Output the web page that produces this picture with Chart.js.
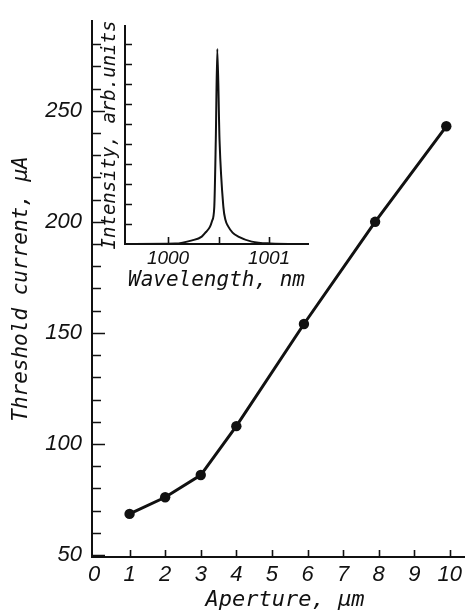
<!DOCTYPE html>
<html><head><meta charset="utf-8">
<script src="https://cdn.jsdelivr.net/npm/chart.js@4.4.1/dist/chart.umd.min.js"></script>
<style>
html,body{margin:0;padding:0;background:#fff;}
#wrap{position:relative;width:470px;height:616px;overflow:hidden;}
#main{position:absolute;left:0;top:0;}
#inset{position:absolute;left:96px;top:0;}
</style></head><body>
<div id="wrap"><canvas id="main" width="470" height="616"></canvas><canvas id="inset" width="220" height="295"></canvas></div>
<script>
// ---- main chart data ----
const apertures = [1, 2, 3, 4, 5.9, 7.9, 9.9];
const thresholdCurrents = [68.5, 76, 86, 108, 154, 200, 243];
const mainXTicks = [0, 1, 2, 3, 4, 5, 6, 7, 8, 9, 10];
const mainXTickMarks = [1, 2, 3, 4, 5, 6, 7, 8, 9, 10];
const mainYTicks = [50, 60, 70, 80, 90, 100, 110, 120, 130, 140, 150, 160, 170, 180, 190, 200, 210, 220, 230, 240, 250, 260, 270, 280];
const mainYLabelled = [50, 100, 150, 200, 250];

// ---- inset spectrum data ----
const wavelengths = [999.6, 1000.07, 1000.238, 1000.334, 1000.376, 1000.416, 1000.436, 1000.458, 1000.473, 1000.488, 1000.51, 1000.548, 1000.569, 1000.597, 1000.639, 1000.696, 1000.829, 1001.01, 1001.386];
const intensities = [0, 0.002, 0.018, 0.037, 0.06, 0.087, 0.115, 0.185, 0.52, 0.975, 0.52, 0.186, 0.12, 0.087, 0.057, 0.037, 0.012, 0.003, 0];
const insetXTicks = [1000, 1000.5, 1001];
const insetXLabelled = [1000, 1001];
const insetYTicks = [0.1, 0.2, 0.3, 0.4, 0.5, 0.6, 0.7, 0.8, 0.9, 1.0];

const INK = '#111';
const tickFont = {family: '"Liberation Sans", Arial, sans-serif', style: 'italic', size: 22, lineHeight: 1};
const titleFam = '"DejaVu Sans Mono", monospace';

function inwardTicks(id, spec) {
  return {
    id: id,
    afterDraw(chart) {
      const ctx = chart.ctx, a = chart.chartArea;
      const xs = chart.scales.x, ys = chart.scales.y;
      ctx.save();
      ctx.strokeStyle = INK;
      ctx.lineWidth = spec.width;
      ctx.beginPath();
      spec.yTicks.forEach(v => {
        const p = Math.round(ys.getPixelForValue(v)) + 0.5;
        const len = spec.yMajor && spec.yMajor.includes(v) ? spec.yMajorLen : spec.yLen;
        ctx.moveTo(a.left, p); ctx.lineTo(a.left + len, p);
      });
      spec.xTicks.forEach(v => {
        const p = Math.round(xs.getPixelForValue(v)) + 0.5;
        ctx.moveTo(p, a.bottom); ctx.lineTo(p, a.bottom - spec.xLen);
      });
      ctx.stroke();
      ctx.restore();
    }
  };
}

new Chart(document.getElementById('main'), {
  type: 'scatter',
  data: {
    datasets: [{
      data: apertures.map((x, i) => ({x: x, y: thresholdCurrents[i]})),
      showLine: true,
      borderColor: INK,
      backgroundColor: INK,
      borderWidth: 3,
      pointRadius: 5.2,
      pointBackgroundColor: INK,
      pointBorderWidth: 0,
      tension: 0
    }]
  },
  options: {
    responsive: false,
    animation: false,
    devicePixelRatio: 1,
    layout: {padding: {top: 7, right: 2, left: 0, bottom: 0}},
    plugins: {legend: {display: false}, tooltip: {enabled: false}},
    scales: {
      x: {
        type: 'linear', min: -0.056, max: 10.42,
        afterBuildTicks: s => { s.ticks = mainXTicks.map(v => ({value: v})); },
        afterFit: s => { s.height = 59; },
        grid: {display: false, drawTicks: false},
        border: {display: true, color: INK, width: 2},
        ticks: {autoSkip: false, maxRotation: 0, color: INK, font: tickFont, padding: 7, callback: v => String(v)},
        title: {display: true, text: ' Aperture, \u03BCm', color: INK, font: {family: titleFam, style: 'oblique', size: 22, lineHeight: 1.2}, padding: {top: 0, bottom: 3}}
      },
      y: {
        type: 'linear', min: 49.1, max: 290.4,
        afterBuildTicks: s => { s.ticks = mainYTicks.map(v => ({value: v})); },
        afterFit: s => { s.width = 92; },
        grid: {display: false, drawTicks: false},
        border: {display: true, color: INK, width: 2},
        ticks: {autoSkip: false, color: INK, font: tickFont, padding: 10, callback: v => mainYLabelled.includes(v) ? String(v) : ''},
        title: {display: true, text: 'Threshold current, \u03BCA', color: INK, font: {family: titleFam, style: 'oblique', size: 21, lineHeight: 1.2}, padding: {top: 9, bottom: 0}}
      }
    }
  },
  plugins: [inwardTicks('mainTicks', {width: 1.6, yTicks: mainYTicks, yMajor: mainYLabelled, yLen: 9, yMajorLen: 13, xTicks: mainXTickMarks, xLen: 7})]
});

new Chart(document.getElementById('inset'), {
  type: 'scatter',
  data: {
    datasets: [{
      data: wavelengths.map((x, i) => ({x: x, y: intensities[i]})),
      showLine: true,
      borderColor: INK,
      borderWidth: 2,
      pointRadius: 0,
      tension: 0.2,
      cubicInterpolationMode: 'monotone'
    }]
  },
  options: {
    responsive: false,
    animation: false,
    devicePixelRatio: 1,
    layout: {padding: {top: 26, right: 8, left: 0, bottom: 0}},
    plugins: {legend: {display: false}, tooltip: {enabled: false}},
    scales: {
      x: {
        type: 'linear', min: 999.574, max: 1001.386,
        afterBuildTicks: s => { s.ticks = insetXTicks.map(v => ({value: v})); },
        afterFit: s => { s.height = 51; },
        grid: {display: false, drawTicks: false},
        border: {display: true, color: INK, width: 2},
        ticks: {autoSkip: false, maxRotation: 0, color: INK, font: {family: tickFont.family, style: 'italic', size: 19, lineHeight: 1}, padding: 5, callback: v => insetXLabelled.includes(v) ? String(v) : ''},
        title: {display: true, text: 'Wavelength, nm', color: INK, font: {family: titleFam, style: 'oblique', size: 21, lineHeight: 1.2}, padding: {top: 0, bottom: 2}}
      },
      y: {
        type: 'linear', min: 0, max: 1.09,
        afterBuildTicks: s => { s.ticks = insetYTicks.map(v => ({value: v})); },
        afterFit: s => { s.width = 29; },
        grid: {display: false, drawTicks: false},
        border: {display: true, color: INK, width: 2},
        ticks: {autoSkip: false, display: true, color: INK, font: {size: 1}, callback: () => ''},
        title: {display: true, text: 'Intensity, arb.units', color: INK, font: {family: titleFam, style: 'oblique', size: 19, lineHeight: 1.2}, padding: {top: 3, bottom: 0}}
      }
    }
  },
  plugins: [inwardTicks('insetTicks', {width: 1.6, yTicks: insetYTicks, yMajor: null, yLen: 7, yMajorLen: 7, xTicks: insetXTicks, xLen: 7})]
});
</script>
</body></html>
